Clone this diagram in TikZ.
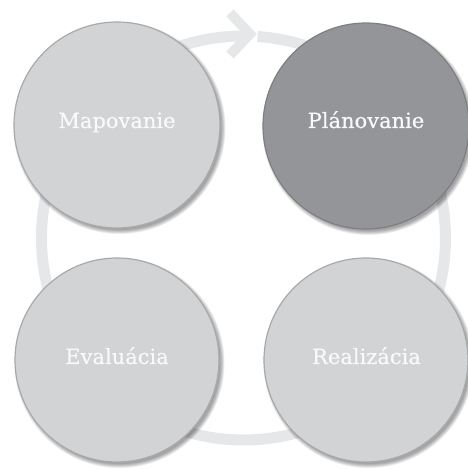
\documentclass[tikz,border=0pt]{standalone}
\usepackage{fontspec}
\setmainfont{DejaVu Serif}
\newfontfamily\labelfont[FakeBold=0.5]{DejaVu Serif}
\definecolor{ringgray}{HTML}{E6E7E8}
\definecolor{lightfill}{HTML}{D1D3D4}
\definecolor{darkfill}{HTML}{939598}
\definecolor{rimlight}{HTML}{A7A9AC}
\definecolor{rimdark}{HTML}{7D7F82}
\definecolor{labelwhite}{HTML}{F9F9F9}
\tikzset{
  ringline/.style={line width=11pt, draw=ringgray},
  chevron/.style={line width=10pt, draw=ringgray, line join=miter},
  phase/.style={circle, minimum size=205pt, inner sep=0pt, line width=1.2pt},
  lightphase/.style={phase, fill=lightfill, draw=rimlight},
  darkphase/.style={phase, fill=darkfill, draw=rimdark},
  phaselabel/.style={text=labelwhite, font=\labelfont\fontsize{21}{24}\selectfont, anchor=base},
}
\begin{document}
\begin{tikzpicture}[x=1pt,y=1pt]
\useasboundingbox (0,0) rectangle (467,469);
% cycle ring
\coordinate (ringc) at (243.5,231);
\draw[ringline] ([shift={(88.2:202)}]ringc) arc[start angle=88.2, end angle=446.0, radius=202];
% chevron arrow head
\coordinate (tipup) at (230,456);
\coordinate (tip) at (250,435);
\coordinate (tipdown) at (230,414);
\draw[chevron] (tipup) -- (tip) -- (tipdown);
% shadows
\foreach \cx/\cy/\r in {117/344/103, 366/343/103, 117/109/102, 366/109/102}{
  \foreach \k in {0,1,2,3,4,5}{
    \fill[black, opacity=0.07] (\cx+2.5,\cy-3) circle ({\r-1+\k*0.8});
  }
}
% phases
\node[lightphase, minimum size=206pt] (map) at (117,344) {};
\node[darkphase, minimum size=206pt] (plan) at (366,343) {};
\node[lightphase, minimum size=204pt] (eval) at (117,109) {};
\node[lightphase, minimum size=204pt] (real) at (366,109) {};
\node[phaselabel] (maptext) at (117,341) {Mapovanie};
\node[phaselabel] (plantext) at (366,341) {Plánovanie};
\node[phaselabel] (evaltext) at (117,105) {Evaluácia};
\node[phaselabel] (realtext) at (366.5,105) {Realizácia};
\end{tikzpicture}
\end{document}
